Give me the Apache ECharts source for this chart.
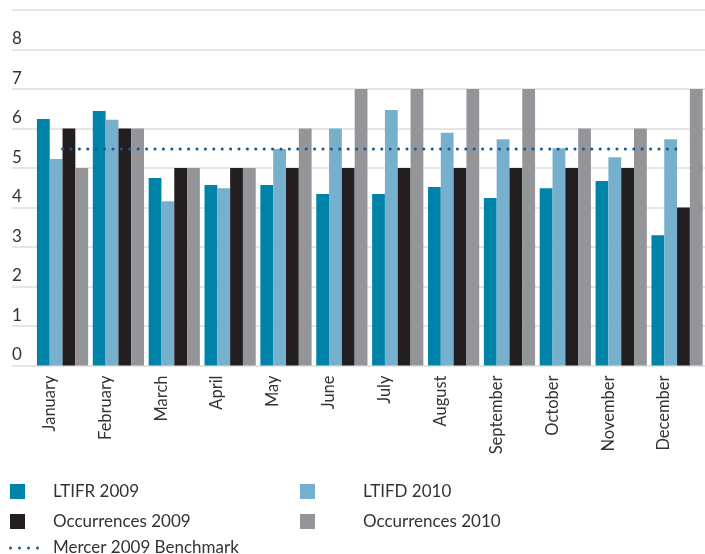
<!DOCTYPE html>
<html>
<head>
<meta charset="utf-8">
<script src="https://cdn.jsdelivr.net/npm/echarts@6/dist/echarts.min.js"></script>
<style>
  html, body { margin: 0; padding: 0; background: #fff; }
  #chart { width: 705px; height: 554px; }
</style>
</head>
<body>
<div id="chart"></div>
<script>
// Monthly safety figures
const months = ['January', 'February', 'March', 'April', 'May', 'June',
  'July', 'August', 'September', 'October', 'November', 'December'];
const ltifr2009 = [6.24, 6.44, 4.75, 4.57, 4.57, 4.34, 4.34, 4.52, 4.24, 4.49, 4.67, 3.30];
const ltifd2010 = [5.23, 6.22, 4.16, 4.49, 5.48, 6.00, 6.47, 5.89, 5.73, 5.50, 5.27, 5.73];
const occurrences2009 = [6, 6, 5, 5, 5, 5, 5, 5, 5, 5, 5, 4];
const occurrences2010 = [5, 6, 5, 5, 6, 7, 7, 7, 7, 6, 6, 7];
const mercerBenchmark = 5.48;
const yTickLabels = ['0', '1', '2', '3', '4', '5', '6', '7', '8'];

const colors = {
  ltifr: '#0083a8',
  ltifd: '#77b0cc',
  occ09: '#231f20',
  occ10: '#949598',
  bench: '#1b5a8e'
};

// four dots used as the benchmark's legend key
const dottedIcon = 'path://M0,1.5a1.5,1.5 0 1,0 3,0a1.5,1.5 0 1,0 -3,0z' +
  'M9,1.5a1.5,1.5 0 1,0 3,0a1.5,1.5 0 1,0 -3,0z' +
  'M18,1.5a1.5,1.5 0 1,0 3,0a1.5,1.5 0 1,0 -3,0z' +
  'M27,1.5a1.5,1.5 0 1,0 3,0a1.5,1.5 0 1,0 -3,0z';

const chart = echarts.init(document.getElementById('chart'), null, { renderer: 'canvas' });
const font = 'Lato, "Open Sans", sans-serif';
const textColor = '#333333';

const option = {
  animation: false,
  textStyle: { fontFamily: font },
  grid: [
    // full-width grid carrying the horizontal rules and value labels
    { left: 12, right: 0, top: 10, bottom: 188.5 },
    // grid holding the bars
    { left: 34.6, right: -10.4, top: 10, bottom: 188.5 }
  ],
  xAxis: [
    { gridIndex: 0, type: 'value', show: false, min: 0, max: 1 },
    {
      gridIndex: 1,
      type: 'category',
      data: months,
      axisLine: { show: false },
      axisTick: { show: false },
      axisLabel: {
        interval: 0,
        rotate: 90,
        margin: 10,
        fontSize: 16.5,
        color: textColor,
        fontFamily: font,
        verticalAlign: 'bottom',
        lineHeight: 26
      }
    }
  ],
  yAxis: [
    {
      gridIndex: 0,
      type: 'value',
      min: 0,
      max: 9,
      interval: 1,
      axisLine: { show: false },
      axisTick: { show: false },
      splitLine: { lineStyle: { color: '#dedede', width: 1.5 } },
      axisLabel: {
        inside: true,
        margin: 0,
        fontSize: 17,
        color: textColor,
        fontFamily: font,
        verticalAlign: 'bottom',
        padding: [0, 0, 2, 0],
        formatter: (v) => (v < yTickLabels.length ? yTickLabels[v] : '')
      }
    },
    { gridIndex: 1, type: 'value', min: 0, max: 9, interval: 1, show: false }
  ],
  legend: [
    {
      data: ['LTIFR 2009', 'Occurrences 2009'],
      orient: 'vertical', left: 10, top: 483, padding: 0,
      itemWidth: 15, itemHeight: 15, itemGap: 13, icon: 'rect',
      selectedMode: false,
      textStyle: { fontSize: 17, color: textColor, fontFamily: font, padding: [0, 0, 0, 23] }
    },
    {
      data: ['LTIFD 2010', 'Occurrences 2010'],
      orient: 'vertical', left: 300, top: 483, padding: 0,
      itemWidth: 15, itemHeight: 15, itemGap: 13, icon: 'rect',
      selectedMode: false,
      textStyle: { fontSize: 17, color: textColor, fontFamily: font, padding: [0, 0, 0, 43] }
    },
    {
      data: [{ name: 'Mercer 2009 Benchmark', icon: dottedIcon }],
      orient: 'vertical', left: 9, top: 539.5, padding: 0,
      itemWidth: 30, itemHeight: 15,
      selectedMode: false,
      itemStyle: { color: colors.bench },
      textStyle: { fontSize: 17, color: textColor, fontFamily: font, padding: [0, 0, 0, 9] }
    }
  ],
  series: [
    {
      name: 'LTIFR 2009', type: 'bar', xAxisIndex: 1, yAxisIndex: 1,
      data: ltifr2009, barGap: 0, barCategoryGap: '8.3%',
      itemStyle: { color: colors.ltifr }
    },
    {
      name: 'LTIFD 2010', type: 'bar', xAxisIndex: 1, yAxisIndex: 1,
      data: ltifd2010, barGap: 0, barCategoryGap: '8.3%',
      itemStyle: { color: colors.ltifd }
    },
    {
      name: 'Occurrences 2009', type: 'bar', xAxisIndex: 1, yAxisIndex: 1,
      data: occurrences2009, barGap: 0, barCategoryGap: '8.3%',
      itemStyle: { color: colors.occ09 }
    },
    {
      name: 'Occurrences 2010', type: 'bar', xAxisIndex: 1, yAxisIndex: 1,
      data: occurrences2010, barGap: 0, barCategoryGap: '8.3%',
      itemStyle: { color: colors.occ10 }
    },
    {
      name: 'Mercer 2009 Benchmark', type: 'line', xAxisIndex: 1, yAxisIndex: 1,
      data: months.map(() => mercerBenchmark),
      symbol: 'none', z: 5,
      itemStyle: { color: colors.bench },
      lineStyle: { color: colors.bench, width: 3, type: [0.1, 8.3], cap: 'round' }
    }
  ]
};

chart.setOption(option);
</script>
</body>
</html>
